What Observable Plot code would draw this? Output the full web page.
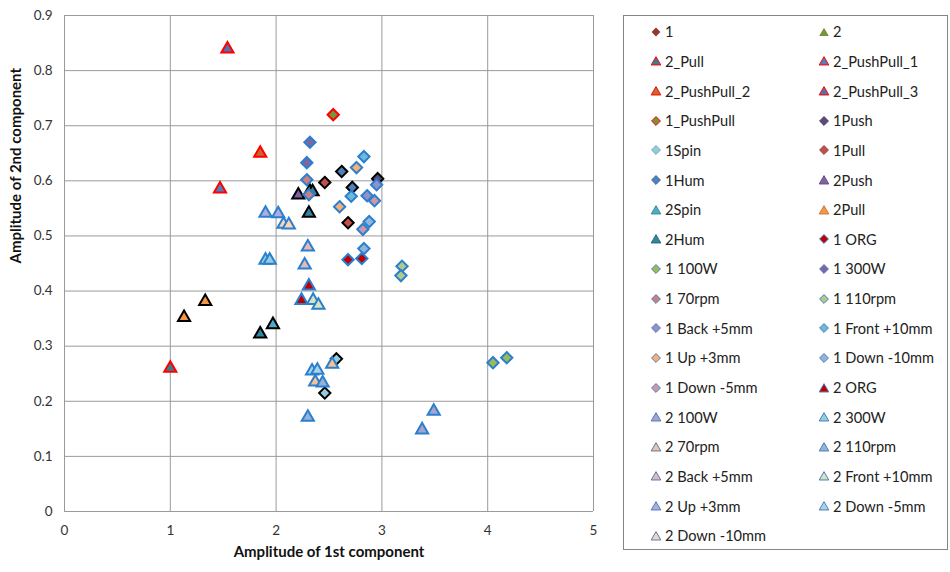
<!DOCTYPE html>
<html>
<head>
<meta charset="utf-8">
<script src="https://cdn.jsdelivr.net/npm/d3@7"></script>
<script src="https://cdn.jsdelivr.net/npm/@observablehq/plot@0.6"></script>
<style>
  body { margin: 0; background: #fff; font-family: Lato, "Open Sans", sans-serif; }
  #wrap { position: relative; width: 950px; height: 572px; }
  #legend { position: absolute; left: 623px; top: 15px; width: 325px; height: 535px; box-sizing: border-box;
            border: 1px solid #858585; display: grid; grid-template-columns: 168px 157px;
            grid-auto-rows: 29.65px; padding-top: 1px; }
  .item { display: flex; align-items: center; font-size: 14.6px; color: #222; white-space: nowrap; }
  .item svg { margin-left: 26px; margin-right: 3px; flex: none; }
</style>
</head>
<body>
<div id="wrap"><div id="chart"></div><div id="legend"></div></div>
<script>
const seriesNames = ["1","2","2_Pull","2_PushPull_1","2_PushPull_2","2_PushPull_3","1_PushPull","1Push",
  "1Spin","1Pull","1Hum","2Push","2Spin","2Pull","2Hum","1 ORG","1 100W","1 300W","1 70rpm","1 110rpm",
  "1 Back +5mm","1 Front +10mm","1 Up +3mm","1 Down -10mm","1 Down -5mm","2 ORG","2 100W","2 300W",
  "2 70rpm","2 110rpm","2 Back +5mm","2 Front +10mm","2 Up +3mm","2 Down -5mm","2 Down -10mm"];
const seriesShape = ["diamond","triangle","triangle","triangle","triangle","triangle","diamond","diamond",
  "diamond","diamond","diamond","triangle","triangle","triangle","triangle","diamond","diamond","diamond","diamond","diamond",
  "diamond","diamond","diamond","diamond","diamond","triangle","triangle","triangle",
  "triangle","triangle","triangle","triangle","triangle","triangle","triangle"];
const seriesFill = ["#953735","#77933C","#3A7D92","#4F81BD","#C46A2C","#5272AE","#77933C","#5F497A",
  "#93CDDD","#C0504D","#4F81BD","#7F62A1","#4BACC6","#F79646","#31859C","#C00000","#9BBB59","#7F65A3","#C9807E","#AFCB8A",
  "#9690C8","#6BBBD6","#F8AE78","#95B3D7","#CC98A8","#C00000","#A8A3CE","#93CDDD",
  "#FAC090","#95B3D7","#E6B9B8","#D7E4BD","#B1ACD8","#A8D4E6","#FCD5B5"];
const seriesEdge = ["none","none","#FF0000","#FF0000","#FF0000","#FF0000","#FF0000","#000000",
  "#000000","#000000","#000000","#000000","#000000","#000000","#000000"].concat(Array(20).fill("#2A7FCF"));

// data points: series name, 1st component amplitude, 2nd component amplitude
const pointSeries = ["2_Pull","2_PushPull_1","2_PushPull_2","2_PushPull_3","1_PushPull","1Push",
  "1Spin","1Spin","1Pull","1Pull","1Hum","1Hum","2Push","2Spin","2Spin","2Pull","2Pull","2Hum","2Hum","2Hum",
  "1 ORG","1 ORG","1 100W","1 100W","1 300W","1 300W","1 70rpm","1 70rpm","1 110rpm","1 110rpm",
  "1 Back +5mm","1 Back +5mm","1 Front +10mm","1 Front +10mm","1 Up +3mm","1 Up +3mm",
  "1 Down -10mm","1 Down -10mm","1 Down -5mm","1 Down -5mm","2 ORG","2 ORG","2 100W","2 100W",
  "2 300W","2 300W","2 70rpm","2 70rpm","2 110rpm","2 110rpm","2 Back +5mm","2 Back +5mm",
  "2 Front +10mm","2 Front +10mm","2 Up +3mm","2 Up +3mm","2 Down -5mm","2 Down -5mm","2 Down -10mm","2 Down -10mm"];
const pointX = [1.00,1.47,1.85,1.54,2.54,2.96,
  2.57,2.46,2.46,2.68,2.62,2.72,2.21,2.32,1.97,1.13,1.33,2.31,1.85,2.345,
  2.68,2.81,4.05,4.18,2.32,2.29,2.29,2.31,3.19,3.18,
  2.95,2.86,2.83,2.71,2.76,2.60,
  2.88,2.83,2.93,2.82,2.31,2.24,3.49,3.38,
  1.90,1.94,2.37,2.53,2.44,2.30,2.30,2.27,
  2.35,2.40,1.90,2.02,2.34,2.39,2.07,2.12];
const pointY = [0.263,0.588,0.653,0.842,0.720,0.604,
  0.277,0.215,0.597,0.524,0.617,0.588,0.577,0.584,0.342,0.355,0.384,0.544,0.325,0.583,
  0.457,0.459,0.270,0.279,0.670,0.633,0.602,0.575,0.445,0.428,
  0.593,0.573,0.644,0.572,0.624,0.553,
  0.526,0.477,0.564,0.512,0.412,0.386,0.185,0.151,
  0.459,0.459,0.238,0.270,0.236,0.174,0.483,0.450,
  0.386,0.377,0.544,0.543,0.258,0.259,0.524,0.523];

const xTicks = [0,1,2,3,4,5];
const yTicks = [0,0.1,0.2,0.3,0.4,0.5,0.6,0.7,0.8,0.9];
const xTitle = "Amplitude of 1st component";
const yTitle = "Amplitude of 2nd component";

const points = pointSeries.map((s,i) => ({s, x: pointX[i], y: pointY[i]}));

const dotMarks = seriesNames.map((name, k) => {
  const tri = seriesShape[k] === "triangle";
  return Plot.dot(points.filter(d => d.s === name), {
    x: "x", y: "y", symbol: tri ? d3.symbolTriangle2 : d3.symbolDiamond2, r: tri ? 5.8 : 5.1,
    dy: tri ? 1.6 : 0,
    fill: seriesFill[k], stroke: seriesEdge[k], strokeWidth: 2
  });
});

const chart = Plot.plot({
  width: 950, height: 572,
  marginLeft: 64, marginRight: 357, marginTop: 15, marginBottom: 61,
  style: {fontFamily: "Lato, 'Open Sans', sans-serif", fontSize: "13px", color: "#333", background: "#fff"},
  x: {domain: [0,5]},
  y: {domain: [0,0.9]},
  marks: [
    Plot.gridX(xTicks, {stroke: "#9a9a9a", strokeOpacity: 1}),
    Plot.gridY(yTicks, {stroke: "#9a9a9a", strokeOpacity: 1}),
    Plot.axisX(xTicks, {tickSize: 0, tickPadding: 14, label: null, tickFormat: d => String(d), fontSize: 13.5}),
    Plot.axisY(yTicks, {tickSize: 0, tickPadding: 12, label: null, tickFormat: d => d === 0 ? "0" : d.toFixed(1), fontSize: 13.5}),
    ...dotMarks,
    Plot.text([xTitle], {frameAnchor: "bottom", dy: 45, fontWeight: "bold", fontSize: 15, fill: "#111"}),
    Plot.text([yTitle], {frameAnchor: "left", dx: -48, rotate: -90, fontWeight: "bold", fontSize: 15, fill: "#111"})
  ]
});
document.getElementById("chart").appendChild(chart);

// legend
const legendEdge = seriesEdge.map((e,k) => k < 2 ? "none" : (k < 7 ? "#FF0000" : (k < 15 ? d3.color(seriesFill[k]).darker(0.6).formatHex() : "#4A7EBB")));
const legend = d3.select("#legend");
seriesNames.forEach((name, k) => {
  const item = legend.append("div").attr("class", "item");
  const svg = item.append("svg").attr("width", 12).attr("height", 12);
  const tri = seriesShape[k] === "triangle";
  const sym = d3.symbol(tri ? d3.symbolTriangle2 : d3.symbolDiamond2, tri ? 66 : 50);
  svg.append("path").attr("d", sym()).attr("transform", `translate(6,${tri ? 7.2 : 6})`)
    .attr("fill", seriesFill[k]).attr("stroke", legendEdge[k]).attr("stroke-width", 1);
  item.append("span").text(name);
});
</script>
</body>
</html>
